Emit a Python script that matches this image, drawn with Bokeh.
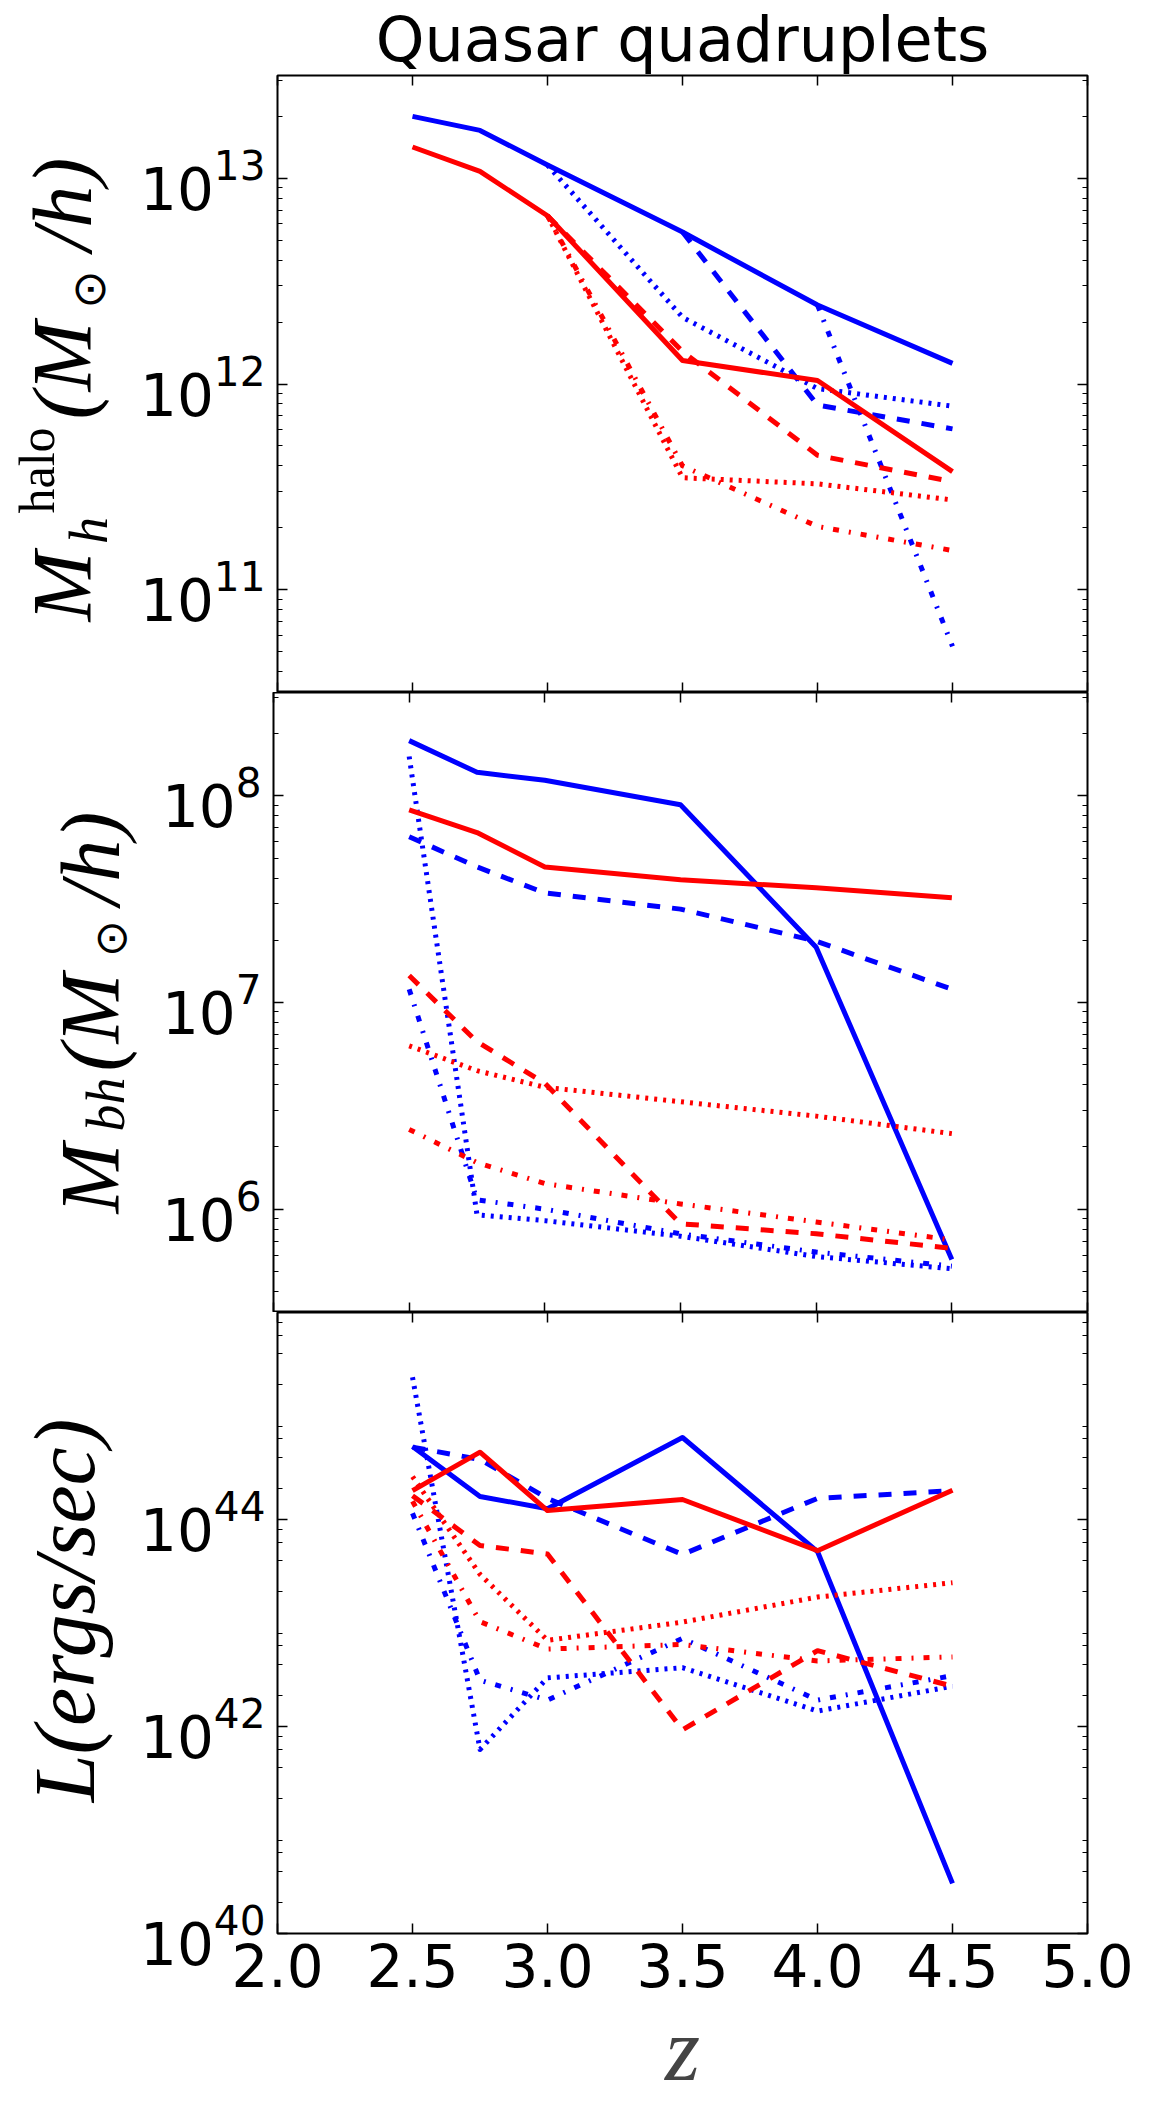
import math
from bokeh.plotting import figure
from bokeh.layouts import column, row
from bokeh.models import (FixedTicker, LinearAxis, LogAxis, Range1d, Label,
                          NumeralTickFormatter, CustomJSTickFormatter)
from bokeh.embed import file_html
from bokeh.resources import INLINE

# ---------------- data ----------------
z_full = [2.5, 2.75, 3.0, 3.5, 4.0, 4.5]
z_from_30 = [3.0, 3.5, 4.0, 4.5]
z_from_35 = [3.5, 4.0, 4.5]
z_from_40 = [4.0, 4.5]

# halo mass  M_h^halo (M_sun/h)
halo_blue_solid = [2.0e13, 1.71e13, 1.16e13, 5.48e12, 2.42e12, 1.26e12]
halo_blue_dashed = [5.48e12, 7.9e11, 6.05e11]            # z_from_35
halo_blue_dotted = [1.16e13, 2.11e12, 9.5e11, 7.8e11]    # z_from_30
halo_blue_dashdot = [2.42e12, 5.3e10]                    # z_from_40
halo_red_solid = [1.42e13, 1.08e13, 6.58e12, 1.30e12, 1.04e12, 3.75e11]
halo_red_dashed = [6.58e12, 1.44e12, 4.5e11, 3.35e11]    # z_from_30
halo_red_dotted = [6.58e12, 3.5e11, 3.27e11, 2.73e11]    # z_from_30
halo_red_dashdot = [6.58e12, 4.0e11, 2.03e11, 1.55e11]   # z_from_30

# black hole mass  M_bh (M_sun/h)
bh_blue_solid = [1.85e8, 1.30e8, 1.19e8, 9.06e7, 1.85e7, 5.71e5]
bh_blue_dashed = [6.34e7, 4.53e7, 3.39e7, 2.83e7, 1.98e7, 1.16e7]
bh_blue_dotted = [1.55e8, 9.4e5, 8.8e5, 7.4e5, 5.9e5, 5.15e5]
bh_blue_dashdot = [1.16e7, 1.11e6, 1.0e6, 7.6e5, 6.2e5, 5.3e5]
bh_red_solid = [8.55e7, 6.64e7, 4.53e7, 3.93e7, 3.59e7, 3.21e7]
bh_red_dashed = [1.35e7, 6.46e6, 4.07e6, 8.5e5, 7.6e5, 6.46e5]
bh_red_dotted = [6.17e6, 4.68e6, 3.89e6, 3.31e6, 2.82e6, 2.32e6]
bh_red_dashdot = [2.43e6, 1.68e6, 1.33e6, 1.06e6, 8.67e5, 7.1e5]

# luminosity  L (ergs/sec)
lum_blue_solid = [5.08e44, 1.67e44, 1.27e44, 6.2e44, 4.9e43, 3.05e40]
lum_blue_dashed = [5.0e44, 3.8e44, 1.6e44, 4.6e43, 1.6e44, 1.9e44]
lum_blue_dotted = [2.37e45, 6.0e41, 2.95e42, 3.7e42, 1.41e42, 2.45e42]
lum_blue_dashdot = [1.15e44, 2.8e42, 1.8e42, 7.1e42, 1.8e42, 3.1e42]
lum_red_solid = [1.9e44, 4.47e44, 1.22e44, 1.56e44, 5.0e43, 1.92e44]
lum_red_dashed = [1.7e44, 5.6e43, 4.65e43, 9.3e41, 5.4e42, 2.45e42]
lum_red_dotted = [2.6e44, 2.95e43, 6.8e42, 1.02e43, 1.78e43, 2.45e43]
lum_red_dashdot = [1.5e44, 1.03e43, 5.6e42, 6.2e42, 4.3e42, 4.7e42]

x_tick_values = [2.0, 2.5, 3.0, 3.5, 4.0, 4.5, 5.0]
title_text = "Quasar quadruplets"

# ---------------- styling ----------------
BLUE = "#0000ff"
RED = "#ff0000"
DASH = {"solid": "solid", "dashed": "13 12", "dotted": "3 6", "dashdot": "6 10 2 10"}
LW = 5

LAB_W = 137          # width of the strip that holds the y titles
FRAME_LEFT = 273     # page x of the plotting frame
W = 1152

EMPTY = CustomJSTickFormatter(code="return ''")


def log_minor(lo, hi, subs=range(2, 10)):
    return [k * 10.0 ** n for n in range(lo, hi) for k in subs]


def style_axis(ax, show_labels):
    ax.major_tick_in = 10
    ax.major_tick_out = 0
    ax.minor_tick_in = 5
    ax.minor_tick_out = 0
    ax.major_tick_line_color = "black"
    ax.minor_tick_line_color = "black"
    ax.major_tick_line_width = 1.5
    ax.minor_tick_line_width = 1.2
    ax.axis_line_color = None
    if show_labels:
        ax.major_label_text_font = "DejaVu Sans"
        ax.major_label_text_font_size = "58px"
        ax.major_label_text_color = "black"
        ax.major_label_standoff = 12
    else:
        ax.formatter = EMPTY
        ax.major_label_text_font_size = "1px"
        ax.major_label_standoff = 0


def make_panel(y_lo, y_hi, y_major, y_minor, height, top, bottom, show_x):
    p = figure(width=W - LAB_W, height=height, x_range=Range1d(2.0, 5.0),
               y_range=Range1d(y_lo, y_hi), y_axis_type="log",
               output_backend="svg", toolbar_location=None,
               min_border_left=FRAME_LEFT - LAB_W, min_border_right=65,
               min_border_top=top, min_border_bottom=bottom)
    p.add_layout(LinearAxis(), "above")
    p.add_layout(LogAxis(), "right")
    p.grid.visible = False
    p.outline_line_color = "black"
    p.outline_line_width = 2
    p.background_fill_color = "white"
    p.border_fill_color = "white"
    xt = FixedTicker(ticks=x_tick_values, minor_ticks=[])
    yt = FixedTicker(ticks=y_major, minor_ticks=y_minor)
    for ax in p.below:
        ax.ticker = xt
        if show_x:
            ax.formatter = NumeralTickFormatter(format="0.0")
        style_axis(ax, show_x)
    for ax in p.above:
        ax.ticker = xt
        style_axis(ax, False)
    for ax in p.left:
        ax.ticker = yt
        style_axis(ax, True)
    for ax in p.right:
        ax.ticker = yt
        style_axis(ax, False)
    return p


def make_strip(height):
    s = figure(width=LAB_W, height=height, x_range=Range1d(0, 1), y_range=Range1d(0, 1),
               output_backend="svg", toolbar_location=None,
               min_border_left=0, min_border_right=0, min_border_top=0, min_border_bottom=0)
    s.axis.visible = False
    s.grid.visible = False
    s.outline_line_color = None
    s.background_fill_color = "white"
    s.border_fill_color = "white"
    return s


def draw(p, xs, ys, color, kind):
    p.line(xs, ys, line_color=color, line_width=LW, line_dash=DASH[kind],
           line_cap="butt", line_join="round")


def vtext(s, text, cx_page, cy_page, frame_bottom, size, font="Liberation Serif",
          style="italic"):
    # rotated text piece, anchored at its centre (screen units from frame bottom)
    s.add_layout(Label(x=cx_page, y=frame_bottom - cy_page,
                       x_units="screen", y_units="screen", text=text,
                       angle=math.pi / 2, text_align="center",
                       text_baseline="middle", text_font=font,
                       text_font_size=f"{size}px", text_font_style=style,
                       text_color="black"))


MAIN = 84
SUB = 54
H1, H2, H3 = 692, 620, 816

# ---------------- top panel: halo mass ----------------
p1 = make_panel(10 ** 10.5, 10 ** 13.5, [1e11, 1e12, 1e13], log_minor(10, 14),
                height=H1, top=73, bottom=0, show_x=False)
p1.title.text = title_text
p1.title.text_font = "DejaVu Sans"
p1.title.text_font_size = "62px"
p1.title.text_font_style = "normal"
p1.title.text_color = "black"
p1.title.align = "center"
p1.title.standoff = 0

draw(p1, z_full, halo_blue_solid, BLUE, "solid")
draw(p1, z_from_35, halo_blue_dashed, BLUE, "dashed")
draw(p1, z_from_30, halo_blue_dotted, BLUE, "dotted")
draw(p1, z_from_40, halo_blue_dashdot, BLUE, "dashdot")
draw(p1, z_full, halo_red_solid, RED, "solid")
draw(p1, z_from_30, halo_red_dashed, RED, "dashed")
draw(p1, z_from_30, halo_red_dotted, RED, "dotted")
draw(p1, z_from_30, halo_red_dashdot, RED, "dashdot")

s1 = make_strip(H1)
fb1 = H1                     # page y of the strip frame bottom
vtext(s1, "M", 62, 586, fb1, MAIN)
vtext(s1, "h", 88, 530, fb1, SUB)
vtext(s1, "halo", 36, 470, fb1, 50, style="normal")
vtext(s1, "(M", 62, 370, fb1, MAIN)
vtext(s1, "\u2299", 88, 289, fb1, 46, font="DejaVu Sans", style="normal")
vtext(s1, "/h)", 62, 204, fb1, MAIN)

# ---------------- middle panel: black hole mass ----------------
p2 = make_panel(10 ** 5.5, 10 ** 8.5, [1e6, 1e7, 1e8], log_minor(5, 9),
                height=H2, top=0, bottom=0, show_x=False)
draw(p2, z_full, bh_blue_solid, BLUE, "solid")
draw(p2, z_full, bh_blue_dashed, BLUE, "dashed")
draw(p2, z_full, bh_blue_dotted, BLUE, "dotted")
draw(p2, z_full, bh_blue_dashdot, BLUE, "dashdot")
draw(p2, z_full, bh_red_solid, RED, "solid")
draw(p2, z_full, bh_red_dashed, RED, "dashed")
draw(p2, z_full, bh_red_dotted, RED, "dotted")
draw(p2, z_full, bh_red_dashdot, RED, "dashdot")

s2 = make_strip(H2)
fb2 = H1 + H2
vtext(s2, "M", 90, 1178, fb2, MAIN)
vtext(s2, "bh", 105, 1104, fb2, SUB)
vtext(s2, "(M", 90, 1022, fb2, MAIN)
vtext(s2, "\u2299", 110, 938, fb2, 44, font="DejaVu Sans", style="normal")
vtext(s2, "/h)", 90, 858, fb2, MAIN)

# ---------------- bottom panel: luminosity ----------------
p3 = make_panel(1e40, 1e46, [1e40, 1e42, 1e44], log_minor(40, 46, subs=[2, 4, 6, 8]),
                height=H3, top=0, bottom=195, show_x=True)
draw(p3, z_full, lum_blue_solid, BLUE, "solid")
draw(p3, z_full, lum_blue_dashed, BLUE, "dashed")
draw(p3, z_full, lum_blue_dotted, BLUE, "dotted")
draw(p3, z_full, lum_blue_dashdot, BLUE, "dashdot")
draw(p3, z_full, lum_red_solid, RED, "solid")
draw(p3, z_full, lum_red_dashed, RED, "dashed")
draw(p3, z_full, lum_red_dotted, RED, "dotted")
draw(p3, z_full, lum_red_dashdot, RED, "dashdot")

s3 = make_strip(H3)
fb3 = H1 + H2 + H3 - 195     # the row aligns the strip's frame with the panel frame
vtext(s3, "L(ergs/sec)", 64, 1610, fb3, 86)

xa = p3.below[0]
xa.axis_label = "z"
xa.axis_label_text_font = "Liberation Serif"
xa.axis_label_text_font_style = "italic"
xa.axis_label_text_font_size = "90px"
xa.axis_label_standoff = 10
xa.major_label_standoff = 10

layout = column(row(s1, p1, spacing=0), row(s2, p2, spacing=0),
                row(s3, p3, spacing=0), spacing=0)
open("out.html", "w").write(file_html(layout, INLINE))
